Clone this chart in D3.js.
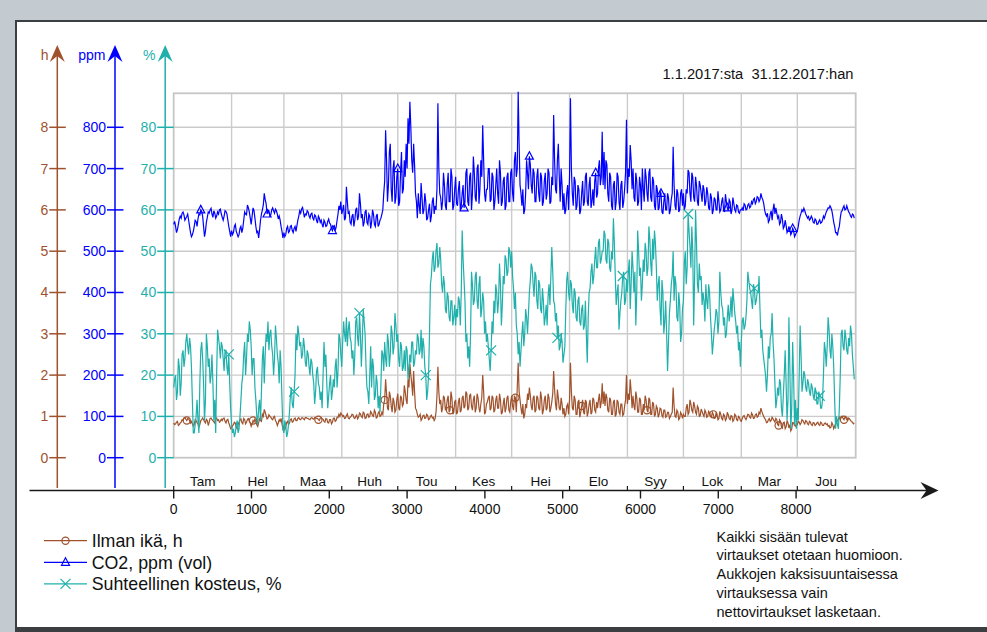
<!DOCTYPE html>
<html>
<head>
<meta charset="utf-8">
<script src="https://cdn.jsdelivr.net/npm/d3@7/dist/d3.min.js"></script>
<style>
  html, body { margin: 0; padding: 0; background: #c3cbd1; }
  svg { display: block; font-family: "Liberation Sans", Arial, sans-serif; }
</style>
</head>
<body>
<svg id="chart" width="987" height="632"></svg>
<script>
// ---- data -------------------------------------------------------------
const months = ["Tam", "Hel", "Maa", "Huh", "Tou", "Kes", "Hei", "Elo", "Syy", "Lok", "Mar", "Jou"];
const monthDays = [31, 28, 31, 30, 31, 30, 31, 31, 30, 31, 30, 31];
const xTicks = [0, 1000, 2000, 3000, 4000, 5000, 6000, 7000, 8000];
const hTicks = [0, 1, 2, 3, 4, 5, 6, 7, 8];
const ppmTicks = [0, 100, 200, 300, 400, 500, 600, 700, 800];
const pctTicks = [0, 10, 20, 30, 40, 50, 60, 70, 80];

// two readings per day of 2017: at midnight (…Night) and at noon (…Noon)
const ilmanIkaNight = [
  0.84, 0.82, 0.88, 0.80, 0.86, 0.90, 0.97, 0.90, 0.94, 0.84, 0.82, 0.80, 0.90, 0.82, 0.80, 0.92, 0.92, 0.84, 0.90, 0.86, 0.96, 0.90, 0.84, 0.96, 0.92, 0.88, 0.90, 0.96, 0.84, 0.93, 0.78,
  0.72, 0.80, 0.84, 0.70, 0.86, 0.94, 0.82, 0.92, 0.86, 0.95, 0.84, 0.82, 0.86, 0.88, 0.76, 0.94, 0.88, 1.00, 1.10, 0.94, 1.04, 0.98, 0.92, 1.00, 0.86, 0.84, 0.88, 0.82,
  0.76, 0.74, 0.88, 0.84, 0.94, 0.88, 0.96, 0.90, 0.97, 0.92, 0.97, 0.92, 0.97, 0.95, 0.92, 0.97, 0.93, 0.96, 0.95, 0.90, 0.97, 0.93, 0.86, 0.94, 0.84, 0.92, 0.86, 0.96, 0.90, 0.97, 1.00,
  1.05, 1.02, 0.96, 1.06, 0.94, 1.00, 1.04, 0.95, 1.03, 0.98, 1.06, 0.97, 1.08, 0.96, 1.06, 1.00, 1.08, 1.00, 1.10, 0.98, 1.12, 1.02, 1.05, 1.40, 1.55, 1.15, 1.50, 1.10, 1.35, 1.15,
  1.55, 1.15, 1.45, 1.30, 1.60, 1.30, 1.70, 2.00, 1.50, 1.60, 1.15, 0.98, 1.05, 0.94, 1.03, 0.96, 1.02, 0.94, 1.03, 0.98, 0.95, 1.50, 1.60, 1.40, 1.20, 1.45, 1.20, 1.50, 1.15, 1.45, 1.10,
  1.40, 1.10, 1.45, 1.15, 1.50, 1.25, 1.55, 1.20, 1.55, 1.15, 1.50, 1.20, 1.45, 1.10, 1.45, 1.60, 1.10, 1.35, 1.50, 1.20, 1.45, 1.15, 1.50, 1.20, 1.40, 1.10, 1.45, 1.20, 1.50, 1.10,
  1.50, 1.15, 1.45, 1.70, 1.60, 1.20, 1.30, 1.05, 1.20, 1.40, 1.50, 1.15, 1.50, 1.15, 1.45, 1.15, 1.45, 1.15, 1.50, 1.20, 1.45, 1.20, 1.55, 1.65, 1.15, 1.45, 1.15, 1.30, 1.20, 1.05, 1.30,
  1.40, 1.60, 1.15, 1.40, 1.05, 1.40, 1.10, 1.40, 1.05, 1.35, 1.10, 1.40, 1.10, 1.40, 1.10, 1.20, 1.55, 1.35, 1.30, 1.25, 1.45, 1.10, 1.40, 1.05, 1.40, 1.05, 1.35, 1.05, 1.30, 1.05, 1.40,
  1.30, 1.40, 1.60, 1.50, 1.15, 1.45, 1.10, 1.40, 1.05, 1.15, 1.40, 1.10, 1.40, 1.05, 1.30, 1.05, 1.20, 1.05, 1.18, 0.98, 1.15, 1.00, 1.10, 1.00, 1.10, 1.25, 0.98, 1.10, 0.96, 1.05,
  1.05, 1.00, 1.30, 1.10, 1.30, 1.10, 1.25, 1.05, 1.20, 1.02, 1.12, 1.00, 1.10, 1.00, 1.08, 0.98, 1.05, 0.96, 1.04, 0.95, 1.05, 0.92, 1.02, 0.94, 1.04, 0.92, 1.00, 0.92, 1.02, 0.90, 0.98,
  0.88, 1.00, 0.96, 0.98, 1.04, 0.96, 1.04, 0.96, 1.06, 1.00, 1.06, 1.12, 1.00, 0.92, 0.86, 0.95, 0.90, 0.94, 0.86, 0.92, 0.78, 0.88, 0.72, 0.86, 0.74, 0.84, 0.80, 0.70, 0.84, 0.76,
  0.80, 0.86, 0.84, 0.90, 0.82, 0.88, 0.80, 0.86, 0.78, 0.84, 0.80, 0.86, 0.78, 0.84, 0.78, 0.84, 0.82, 0.78, 0.74, 0.80, 0.76, 0.86, 0.94, 0.92, 1.00, 0.92, 0.97, 0.90, 0.94, 0.88, 0.82
];
const ilmanIkaNoon = [
  0.80, 0.86, 0.78, 0.84, 0.92, 0.96, 0.93, 0.95, 0.90, 0.88, 0.76, 0.92, 0.85, 0.74, 0.90, 0.96, 0.88, 0.93, 0.78, 0.95, 0.92, 0.87, 0.94, 0.90, 0.86, 0.93, 0.95, 0.88, 0.91, 0.84, 0.70,
  0.78, 0.86, 0.74, 0.80, 0.92, 0.85, 0.95, 0.82, 0.93, 0.88, 0.76, 0.90, 0.94, 0.80, 0.85, 0.90, 1.05, 1.17, 1.02, 0.96, 1.00, 0.94, 0.98, 0.90, 0.78, 0.92, 0.95, 0.70,
  0.68, 0.85, 0.80, 0.92, 0.86, 0.94, 0.90, 0.95, 0.93, 0.96, 0.94, 0.97, 0.95, 0.93, 0.96, 0.94, 0.97, 0.95, 0.92, 0.96, 0.94, 0.88, 0.95, 0.85, 0.92, 0.82, 0.95, 0.88, 0.98, 1.05, 1.08,
  1.00, 0.95, 1.02, 0.96, 0.98, 1.05, 0.97, 1.00, 0.94, 1.08, 1.00, 1.10, 0.95, 1.05, 0.98, 1.12, 1.02, 1.15, 0.96, 1.08, 1.00, 1.10, 1.30, 1.90, 1.20, 1.60, 1.25, 1.45, 1.10, 1.40,
  1.20, 1.50, 1.25, 1.75, 1.40, 1.90, 2.28, 1.80, 2.10, 1.20, 1.05, 1.00, 0.90, 1.02, 0.95, 1.05, 0.92, 1.00, 0.96, 0.90, 1.10, 2.20, 1.30, 1.10, 1.50, 1.15, 1.40, 1.10, 1.60, 1.05, 1.35,
  1.05, 1.35, 1.10, 1.45, 1.20, 1.60, 1.15, 1.50, 1.25, 1.40, 1.10, 1.55, 1.20, 1.30, 2.00, 1.05, 1.30, 1.45, 1.15, 1.50, 1.10, 1.40, 1.20, 1.55, 1.05, 1.30, 1.10, 1.45, 1.15, 1.35,
  1.25, 1.50, 1.10, 2.30, 1.40, 1.05, 0.95, 1.30, 1.55, 1.70, 1.25, 1.45, 1.10, 1.50, 1.20, 1.60, 1.05, 1.40, 1.15, 1.55, 1.10, 1.35, 2.10, 1.30, 1.65, 1.20, 1.45, 1.05, 1.00, 1.25, 1.05,
  2.30, 1.20, 1.50, 1.05, 1.35, 0.98, 1.25, 1.10, 1.40, 1.00, 1.30, 1.05, 1.45, 1.15, 1.35, 1.40, 1.20, 1.80, 1.60, 1.55, 1.15, 1.45, 1.05, 1.35, 1.00, 1.40, 1.10, 1.30, 1.02, 1.25, 2.00,
  1.55, 1.90, 1.20, 1.25, 1.60, 1.10, 1.45, 1.05, 1.30, 1.50, 1.15, 1.45, 1.05, 1.35, 1.00, 1.25, 0.98, 1.20, 1.02, 1.15, 0.98, 1.10, 0.95, 1.05, 1.70, 1.00, 1.15, 0.92, 1.10, 0.95,
  1.00, 1.20, 1.05, 1.40, 1.15, 1.35, 1.10, 1.25, 1.00, 1.18, 1.05, 1.15, 0.98, 1.12, 1.00, 1.10, 0.95, 1.08, 0.92, 1.12, 0.95, 1.05, 0.90, 1.10, 0.95, 1.02, 0.88, 1.05, 0.92, 1.00, 0.90,
  0.95, 1.02, 0.92, 1.05, 0.98, 1.08, 0.95, 1.04, 0.98, 1.10, 1.20, 1.05, 0.95, 0.85, 0.92, 0.88, 0.98, 0.90, 0.95, 0.80, 0.92, 0.75, 0.85, 0.70, 0.90, 0.72, 0.65, 0.85, 0.78, 0.82,
  0.88, 0.80, 0.92, 0.85, 0.90, 0.82, 0.88, 0.80, 0.85, 0.78, 0.84, 0.80, 0.86, 0.78, 0.83, 0.80, 0.76, 0.72, 0.85, 0.70, 0.82, 0.90, 0.98, 1.00, 0.95, 0.98, 0.92, 0.96, 0.90, 0.86, 0.84
];

const co2Night = [
  565, 560, 552, 578, 580, 595, 575, 584, 575, 545, 540, 560, 572, 578, 588, 596, 560, 548, 582, 592, 604, 582, 592, 585, 590, 602, 582, 585, 596, 575, 548,
  550, 545, 565, 542, 540, 560, 555, 595, 588, 605, 580, 585, 598, 560, 548, 552, 590, 612, 625, 590, 598, 588, 605, 592, 598, 578, 575, 548,
  545, 540, 560, 548, 562, 545, 560, 562, 585, 592, 606, 582, 588, 595, 580, 592, 576, 585, 568, 580, 575, 558, 570, 562, 578, 565, 550, 562, 558, 590, 600,
  590, 612, 580, 620, 595, 565, 590, 575, 605, 585, 615, 590, 570, 600, 565, 585, 570, 590, 560, 590, 565, 580, 600, 670, 720, 660, 760, 620, 720, 630,
  700, 620, 740, 650, 680, 700, 760, 800, 690, 710, 620, 640, 590, 630, 600, 620, 580, 615, 585, 630, 610, 650, 700, 630, 620, 660, 600, 690, 620, 680, 610,
  680, 610, 670, 610, 660, 620, 700, 610, 690, 640, 690, 620, 710, 650, 680, 720, 620, 650, 700, 625, 680, 620, 700, 615, 690, 620, 680, 610, 690, 620,
  700, 620, 740, 700, 760, 640, 650, 600, 720, 650, 710, 640, 690, 620, 700, 620, 680, 620, 690, 640, 690, 620, 660, 720, 640, 760, 620, 660, 640, 600, 660,
  680, 700, 610, 670, 610, 650, 600, 670, 620, 690, 610, 680, 620, 610, 690, 640, 720, 680, 660, 650, 710, 620, 680, 600, 670, 620, 680, 600, 670, 620, 690,
  640, 680, 720, 700, 620, 670, 620, 660, 700, 620, 680, 620, 700, 620, 670, 600, 650, 605, 640, 590, 640, 600, 630, 600, 640, 660, 600, 640, 600, 650,
  640, 610, 640, 690, 620, 680, 620, 660, 610, 660, 620, 650, 620, 640, 600, 630, 600, 625, 600, 620, 600, 630, 595, 620, 598, 620, 600, 615, 595, 610, 592,
  600, 598, 612, 602, 615, 608, 615, 628, 620, 630, 625, 630, 615, 590, 592, 575, 598, 600, 590, 592, 585, 570, 578, 560, 562, 550, 552, 545, 550, 540,
  548, 575, 592, 596, 598, 585, 584, 578, 580, 568, 575, 566, 576, 570, 585, 588, 600, 604, 605, 585, 560, 545, 552, 580, 598, 610, 602, 602, 592, 582, 588
];
const co2Noon = [
  572, 545, 565, 585, 592, 588, 580, 590, 560, 535, 548, 575, 560, 590, 600, 585, 535, 570, 595, 600, 590, 598, 580, 595, 600, 590, 575, 598, 590, 560, 535,
  540, 560, 548, 535, 555, 545, 575, 590, 612, 595, 565, 605, 580, 545, 532, 575, 600, 640, 615, 600, 585, 600, 598, 602, 590, 585, 560, 532,
  535, 555, 545, 560, 550, 555, 548, 575, 598, 602, 595, 590, 598, 585, 590, 580, 588, 575, 585, 570, 565, 575, 560, 572, 568, 555, 560, 550, 575, 610, 620,
  600, 575, 656, 590, 570, 585, 560, 600, 575, 640, 580, 560, 595, 570, 590, 555, 600, 565, 585, 560, 575, 590, 640, 793, 620, 740, 650, 700, 615, 680,
  610, 690, 640, 720, 760, 822, 862, 720, 760, 640, 580, 610, 665, 590, 640, 575, 600, 570, 620, 590, 600, 858, 640, 600, 690, 610, 660, 620, 700, 600, 650,
  615, 650, 600, 640, 605, 690, 620, 680, 600, 729, 630, 700, 615, 720, 805, 640, 650, 700, 620, 690, 600, 660, 640, 720, 610, 670, 600, 680, 620, 690,
  640, 720, 680, 886, 660, 610, 590, 640, 690, 730, 660, 700, 620, 680, 640, 690, 610, 670, 625, 700, 615, 680, 830, 650, 720, 680, 700, 600, 590, 640, 600,
  870, 640, 680, 600, 660, 590, 640, 610, 680, 620, 660, 605, 650, 670, 630, 700, 660, 789, 740, 720, 640, 690, 610, 660, 600, 690, 620, 660, 605, 650, 818,
  700, 757, 650, 630, 690, 610, 680, 600, 650, 700, 640, 690, 630, 680, 610, 660, 600, 645, 595, 620, 600, 640, 590, 625, 753, 610, 650, 595, 640, 610,
  600, 650, 697, 640, 690, 630, 680, 620, 670, 640, 660, 610, 655, 605, 640, 590, 630, 600, 645, 595, 620, 600, 638, 605, 625, 590, 630, 600, 612, 595, 600,
  605, 615, 600, 612, 605, 620, 625, 615, 632, 620, 640, 625, 600, 585, 570, 590, 575, 615, 605, 580, 565, 590, 555, 575, 545, 560, 540, 555, 535, 545,
  560, 585, 600, 604, 590, 580, 575, 585, 570, 578, 565, 572, 568, 575, 580, 595, 605, 610, 598, 570, 545, 538, 560, 595, 605, 600, 610, 595, 585, 590, 580
];

const kosteusNight = [
  17, 20, 16, 22, 18, 26, 24, 30, 25, 27, 14, 6, 10, 9, 18, 28, 18, 14, 27, 24, 20, 18, 14, 20, 29, 24, 27, 21, 26, 20, 18,
  8, 7, 6, 9, 7, 14, 20, 28, 24, 28, 31, 20, 24, 14, 8, 14, 16, 27, 25, 28, 26, 31, 25, 24, 29, 23, 26, 14,
  6, 8, 6, 11, 17, 12, 20, 26, 30, 28, 25, 27, 22, 25, 20, 23, 18, 16, 22, 17, 16, 20, 22, 18, 15, 20, 16, 17, 24, 21, 29,
  22, 33, 28, 27, 33, 28, 26, 25, 34, 27, 30, 28, 33, 22, 16, 20, 17, 22, 15, 18, 15, 18, 25, 28, 22, 28, 25, 30, 27, 32,
  30, 22, 27, 22, 21, 26, 22, 23, 28, 23, 25, 29, 26, 24, 27, 20, 16, 30, 44, 50, 46, 52, 47, 48, 40, 42, 35, 39, 33, 38, 34,
  32, 34, 38, 40, 48, 38, 30, 27, 30, 42, 38, 45, 36, 44, 36, 38, 33, 30, 24, 26, 30, 35, 40, 38, 42, 37, 42, 48, 45, 50,
  50, 41, 40, 30, 28, 26, 33, 30, 34, 35, 43, 46, 39, 44, 36, 42, 35, 38, 34, 32, 42, 44, 45, 37, 35, 32, 27, 28, 25, 36, 45,
  38, 42, 35, 40, 33, 39, 32, 37, 32, 30, 34, 41, 47, 44, 51, 46, 53, 48, 50, 54, 47, 52, 45, 48, 52, 37, 42, 35, 40, 45, 38,
  40, 48, 42, 46, 45, 40, 50, 46, 42, 45, 50, 46, 53, 44, 48, 52, 38, 44, 32, 40, 33, 30, 28, 38, 44, 38, 42, 33, 37, 30,
  38, 50, 46, 55, 46, 50, 44, 52, 40, 43, 37, 38, 42, 36, 40, 30, 28, 33, 35, 33, 40, 36, 34, 30, 37, 35, 34, 38, 33, 32, 28,
  28, 34, 32, 38, 43, 40, 36, 41, 38, 40, 36, 31, 24, 20, 20, 24, 30, 28, 18, 14, 15, 18, 10, 20, 18, 14, 22, 12, 20, 14,
  12, 20, 25, 18, 20, 16, 18, 15, 17, 14, 16, 13, 15, 12, 20, 26, 27, 31, 24, 27, 14, 10, 7, 20, 31, 26, 29, 25, 27, 30, 22
];
const kosteusNoon = [
  19, 14, 24, 15, 25, 22, 28, 27, 29, 22, 6, 8, 14, 6, 26, 24, 9, 30, 22, 18, 25, 9, 6, 31, 27, 28, 24, 26, 22, 25, 12,
  6, 5, 8, 6, 10, 18, 25, 20, 30, 33, 27, 24, 17, 10, 12, 9, 24, 18, 30, 33, 30, 27, 20, 32, 25, 18, 22, 7,
  9, 5, 8, 15, 13, 16, 30, 32, 27, 24, 29, 23, 26, 22, 24, 20, 13, 21, 18, 14, 12, 28, 25, 12, 18, 14, 19, 22, 17, 30, 25,
  28, 30, 34, 31, 29, 24, 20, 33, 29, 35, 22, 36, 30, 17, 13, 27, 24, 14, 20, 12, 11, 26, 21, 24, 30, 22, 32, 25, 35, 28,
  24, 28, 21, 26, 27, 19, 25, 28, 22, 26, 30, 25, 31, 29, 22, 14, 20, 42, 48, 45, 50, 46, 51, 42, 44, 36, 40, 34, 38, 32, 37,
  36, 39, 32, 55, 43, 28, 24, 22, 45, 37, 44, 38, 42, 34, 40, 30, 28, 27, 21, 33, 38, 42, 35, 47, 32, 44, 49, 44, 51, 46,
  44, 36, 32, 25, 22, 30, 27, 36, 30, 40, 47, 42, 45, 38, 43, 36, 41, 32, 37, 39, 37, 51, 38, 33, 29, 26, 30, 23, 27, 43, 40,
  43, 37, 41, 34, 38, 33, 36, 31, 38, 23, 40, 45, 42, 48, 46, 52, 47, 50, 55, 48, 53, 46, 50, 58, 44, 40, 31, 38, 44, 37, 43,
  45, 36, 50, 40, 32, 55, 44, 38, 48, 52, 44, 56, 47, 53, 55, 46, 42, 36, 43, 30, 38, 21, 35, 42, 50, 44, 34, 40, 28, 36,
  47, 42, 59, 51, 56, 32, 60, 42, 47, 44, 40, 33, 38, 42, 34, 25, 31, 36, 30, 45, 37, 32, 29, 34, 33, 39, 41, 35, 30, 26, 22,
  33, 31, 34, 45, 41, 38, 42, 37, 40, 44, 29, 26, 22, 16, 27, 29, 35, 24, 12, 17, 19, 12, 15, 26, 9, 34, 7, 28, 8, 7,
  9, 32, 16, 21, 17, 19, 16, 18, 15, 17, 13, 16, 12, 14, 28, 22, 34, 26, 30, 22, 7, 8, 12, 30, 27, 31, 26, 29, 32, 25, 19
];

// hour of the first marker on each curve and the spacing between markers
const markerFirst = { ilmanIka: 171, co2: 350, kosteus: 702 };
const markerEvery = 845;

const legendLabels = ["Ilman ikä, h", "CO2, ppm (vol)", "Suhteellinen kosteus, %"];
const noteLines = [
  "Kaikki sisään tulevat",
  "virtaukset otetaan huomioon.",
  "Aukkojen kaksisuuntaisessa",
  "virtauksessa vain",
  "nettovirtaukset lasketaan."
];
const periodText = "1.1.2017:sta  31.12.2017:han";

// ---- styling ----------------------------------------------------------
const C_H = "#a0522d", C_PPM = "#0000ff", C_PCT = "#1fb0ab";
const GRID = "#cbcbcb";

const svg = d3.select("#chart");

// window frame
svg.append("rect").attr("x", 0).attr("y", 0).attr("width", 987).attr("height", 632).attr("fill", "#c3cbd1");
svg.append("rect").attr("x", 15).attr("y", 20).attr("width", 972).attr("height", 612).attr("fill", "#3c3f42");
svg.append("rect").attr("x", 17).attr("y", 22).attr("width", 970).attr("height", 605).attr("fill", "#ffffff");

// ---- scales -----------------------------------------------------------
const plotL = 173.7, plotR = 855.2, plotT = 93.3, plotB = 457.7;
const x = d3.scaleLinear().domain([0, 8760]).range([plotL, plotR]);
const yPct = d3.scaleLinear().domain([0, 88.23]).range([plotB, plotT]);
const yPpm = d3.scaleLinear().domain([0, 882.3]).range([plotB, plotT]);
const yH = d3.scaleLinear().domain([0, 8.823]).range([plotB, plotT]);

// month boundaries in hours
const monthStart = [0];
monthDays.forEach((d, i) => monthStart.push(monthStart[i] + d * 24));

// ---- plot grid --------------------------------------------------------
const grid = svg.append("g");
grid.selectAll("line.v").data(monthStart.slice(1, 12)).join("line")
  .attr("x1", d => x(d)).attr("x2", d => x(d))
  .attr("y1", plotT).attr("y2", plotB)
  .attr("stroke", GRID).attr("stroke-width", 1.4);
grid.selectAll("line.h").data(pctTicks.slice(1)).join("line")
  .attr("x1", plotL).attr("x2", plotR)
  .attr("y1", d => yPct(d)).attr("y2", d => yPct(d))
  .attr("stroke", GRID).attr("stroke-width", 1.4);
grid.append("rect")
  .attr("x", plotL).attr("y", plotT).attr("width", plotR - plotL + 0.5).attr("height", plotB - plotT)
  .attr("fill", "none").attr("stroke", "#c6c6c6").attr("stroke-width", 1.8);

// ---- vertical axes ----------------------------------------------------
function arrowUp(g, ax, color) {
  g.append("path")
    .attr("d", `M${ax},45 L${ax - 7.5},62 L${ax},56 L${ax + 7.5},62 Z`)
    .attr("fill", color);
}

function valueAxis(ax, scale, ticks, color, title, titleX) {
  const g = svg.append("g");
  g.append("line").attr("x1", ax).attr("x2", ax).attr("y1", 50).attr("y2", 488)
    .attr("stroke", color).attr("stroke-width", 1.5);
  arrowUp(g, ax, color);
  g.selectAll("line.t").data(ticks).join("line")
    .attr("x1", ax - 8).attr("x2", ax + 8.5)
    .attr("y1", d => scale(d)).attr("y2", d => scale(d))
    .attr("stroke", color).attr("stroke-width", 1.5);
  g.selectAll("text.t").data(ticks).join("text")
    .attr("x", ax - 9).attr("y", d => scale(d) + 5)
    .attr("text-anchor", "end").attr("font-size", 14).attr("fill", color)
    .text(d => d);
  g.append("text").attr("x", titleX).attr("y", 60).attr("text-anchor", "end")
    .attr("font-size", 14).attr("fill", color).text(title);
}
valueAxis(57.3, yH, hTicks, C_H, "h", 48.5);
valueAxis(115, yPpm, ppmTicks, C_PPM, "ppm", 105.5);
valueAxis(165.2, yPct, pctTicks, C_PCT, "%", 155.5);

// ---- time axis --------------------------------------------------------
const ax = svg.append("g");
ax.append("line").attr("x1", 29.5).attr("x2", 930).attr("y1", 490.5).attr("y2", 490.5)
  .attr("stroke", "#1a1a1a").attr("stroke-width", 1.6);
ax.append("path").attr("d", "M938.5,490.5 L920.5,482 L926.5,490.5 L920.5,499 Z").attr("fill", "#1a1a1a");
ax.selectAll("line.m").data(monthStart).join("line")
  .attr("x1", d => x(d)).attr("x2", d => x(d)).attr("y1", 486).attr("y2", 490.5)
  .attr("stroke", "#1a1a1a").attr("stroke-width", 1.2);
ax.selectAll("line.k").data(xTicks).join("line")
  .attr("x1", d => x(d)).attr("x2", d => x(d)).attr("y1", 490.5).attr("y2", 498.5)
  .attr("stroke", "#1a1a1a").attr("stroke-width", 1.4);
ax.selectAll("text.k").data(xTicks).join("text")
  .attr("x", d => x(d)).attr("y", 514).attr("text-anchor", "middle")
  .attr("font-size", 14).attr("fill", "#111").text(d => d);
ax.selectAll("text.m").data(months).join("text")
  .attr("x", (d, i) => x((monthStart[i] + monthStart[i + 1]) / 2)).attr("y", 486)
  .attr("text-anchor", "middle").attr("font-size", 13.5).attr("fill", "#111").text(d => d);

// ---- series -----------------------------------------------------------
// interleave the midnight and noon readings into one time series
function halfDaily(night, noon) {
  const pts = [];
  night.forEach((v, i) => {
    pts.push({ t: i * 24, v: v });
    pts.push({ t: i * 24 + 12, v: noon[i] });
  });
  return pts;
}

const series = [
  { key: "ilmanIka", points: halfDaily(ilmanIkaNight, ilmanIkaNoon), y: yH, color: C_H, marker: "circle" },
  { key: "co2", points: halfDaily(co2Night, co2Noon), y: yPpm, color: C_PPM, marker: "triangle" },
  { key: "kosteus", points: halfDaily(kosteusNight, kosteusNoon), y: yPct, color: C_PCT, marker: "cross" }
];

function drawMarker(g, type, cx, cy, color) {
  if (type === "circle") {
    g.append("circle").attr("cx", cx).attr("cy", cy).attr("r", 3.6)
      .attr("fill", "none").attr("stroke", color).attr("stroke-width", 1.2);
  } else if (type === "triangle") {
    g.append("path").attr("d", `M${cx},${cy - 4.5} L${cx - 4},${cy + 3} L${cx + 4},${cy + 3} Z`)
      .attr("fill", "none").attr("stroke", color).attr("stroke-width", 1.2);
  } else {
    g.append("path").attr("d", `M${cx - 5},${cy - 5} L${cx + 5},${cy + 5} M${cx - 5},${cy + 5} L${cx + 5},${cy - 5}`)
      .attr("stroke", color).attr("stroke-width", 1.2);
  }
}

const dataG = svg.append("g");
series.forEach(s => {
  const line = d3.line().x(d => x(d.t)).y(d => s.y(d.v));
  dataG.append("path").datum(s.points).attr("d", line)
    .attr("fill", "none").attr("stroke", s.color).attr("stroke-width", 1.2)
    .attr("stroke-linejoin", "miter");
  for (let t = markerFirst[s.key]; t < 8760; t += markerEvery) {
    const p = s.points[Math.min(s.points.length - 1, Math.round(t / 12))];
    drawMarker(dataG, s.marker, x(p.t), s.y(p.v), s.color);
  }
});

// ---- texts ------------------------------------------------------------
svg.append("text").attr("x", 853.5).attr("y", 78.5).attr("text-anchor", "end")
  .attr("font-size", 14.7).attr("fill", "#111").attr("xml:space", "preserve")
  .style("white-space", "pre").text(periodText);

const leg = svg.append("g");
series.forEach((s, i) => {
  const cy = 540.7 + i * 21.6;
  leg.append("line").attr("x1", 44).attr("x2", 87).attr("y1", cy).attr("y2", cy)
    .attr("stroke", s.color).attr("stroke-width", 1.3);
  drawMarker(leg, s.marker, 65.5, cy, s.color);
  leg.append("text").attr("x", 91.7).attr("y", cy + 6.4).attr("font-size", 17.8)
    .attr("fill", "#111").text(legendLabels[i]);
});

svg.append("g").selectAll("text").data(noteLines).join("text")
  .attr("x", 716.5).attr("y", (d, i) => 541.5 + i * 18.8)
  .attr("font-size", 14.5).attr("fill", "#111").text(d => d);
</script>
</body>
</html>
